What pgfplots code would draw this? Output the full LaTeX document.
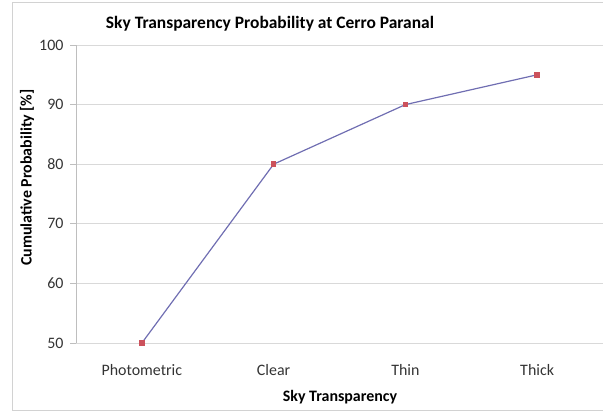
\documentclass[border=0pt]{standalone}
\usepackage{pgfplots}
\pgfplotsset{compat=1.18}
\usepackage{fontspec}
\setmainfont{Carlito}
\definecolor{linec}{RGB}{112,110,178}
\definecolor{markc}{RGB}{204,82,92}
\definecolor{gridc}{RGB}{217,217,217}
\definecolor{axc}{RGB}{190,190,190}
\definecolor{framec}{RGB}{210,210,210}
\begin{document}
\begin{tikzpicture}[x=1bp,y=1bp]
\path[use as bounding box] (0,0) rectangle (603,413);
\draw[framec, line width=0.8bp] (603,2.5) -- (12.5,2.5) -- (12.5,410.5) -- (603,410.5);
\begin{axis}[
  at={(76bp,70bp)}, anchor=south west,
  width=527bp, height=298bp, scale only axis,
  xmin=-0.5, xmax=3.5, ymin=50, ymax=100,
  xtick={0,1,2,3},
  xticklabels={Photometric,Clear,Thin,Thick},
  ytick={50,60,70,80,90,100},
  axis line style={axc, line width=0.8bp},
  axis x line*=bottom, axis y line*=left,
  separate axis lines,
  x axis line style={draw=none},
  ymajorgrids, grid style={gridc, line width=0.9bp},
  major tick style={axc, line width=0.8bp},
  major x tick style={draw=none},
  tick align=outside, major tick length=6bp,
  /pgf/number format/assume math mode=true,
  ticklabel style={font=\fontsize{16}{18}\selectfont, text=black!80},
  yticklabel style={anchor=east, xshift=-3bp},
  xticklabel style={anchor=center, yshift=-21bp},
  clip=false,
]
\addplot[color=linec, line width=1.2bp, mark=square*, mark size=2.2bp,
  mark options={fill=markc, draw=markc}] coordinates {
  (0,50) (1,80) (2,90) (3,95)
};
\end{axis}
\node[font=\bfseries\fontsize{17.5}{20}\selectfont] at (270,389) {Sky Transparency Probability at Cerro Paranal};
\node[font=\bfseries\fontsize{16}{18}\selectfont] at (340,16) {Sky Transparency};
\node[font=\bfseries\fontsize{16}{18}\selectfont, rotate=90] at (27,235.5) {Cumulative Probability [\%]};
\end{tikzpicture}
\end{document}
